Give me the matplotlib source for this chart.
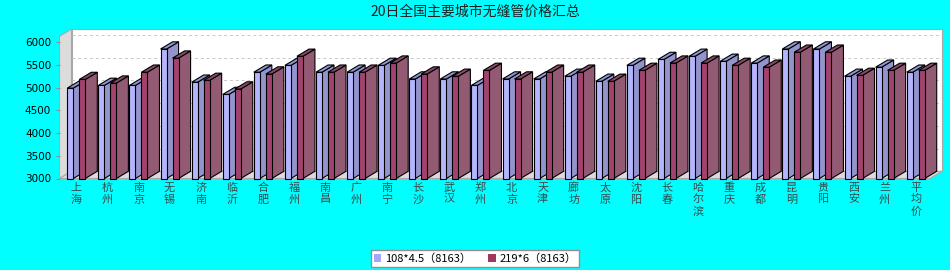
import matplotlib
matplotlib.use("Agg")
import matplotlib.pyplot as plt
from matplotlib.patches import Polygon, Patch
import numpy as np

plt.rcParams['font.family'] = ['Noto Sans CJK SC', 'DejaVu Sans']

title = "20日全国主要城市无缝管价格汇总"
cities = ["上海", "杭州", "南京", "无锡", "济南", "临沂", "合肥", "福州", "南昌", "广州",
          "南宁", "长沙", "武汉", "郑州", "北京", "天津", "廊坊", "太原", "沈阳", "长春",
          "哈尔滨", "重庆", "成都", "昆明", "贵阳", "西安", "兰州", "平均价"]
series_names = ["108*4.5（8163）", "219*6（8163）"]
s1 = [4990, 5050, 5050, 5850, 5120, 4850, 5340, 5490, 5340, 5340,
      5490, 5190, 5190, 5050, 5190, 5190, 5250, 5140, 5490, 5620,
      5690, 5580, 5540, 5850, 5850, 5250, 5450, 5340]
s2 = [5180, 5100, 5340, 5650, 5160, 4970, 5300, 5690, 5340, 5340,
      5540, 5300, 5250, 5380, 5190, 5340, 5340, 5140, 5380, 5540,
      5540, 5490, 5450, 5780, 5780, 5270, 5380, 5380]
yticks = [3000, 3500, 4000, 4500, 5000, 5500, 6000]

W, H = 950, 270
fig = plt.figure(figsize=(W / 100, H / 100), dpi=100)
fig.patch.set_facecolor('#00ffff')

x_left, x_right, y_bot, y_top = 59.5, 930.0, 178.5, 36.3
ax = fig.add_axes([x_left / W, 1 - y_bot / H, (x_right - x_left) / W, (y_bot - y_top) / H])
ax.set_facecolor('none')
n = len(cities)
ymin, ymax = 3000, 6130
ax.set_xlim(0, n)
ax.set_ylim(ymin, ymax)

px_x = (x_right - x_left) / n          # pixels per category unit
px_y = (y_bot - y_top) / (ymax - ymin)  # pixels per value unit
dx = 12 / px_x
dy = 7.2 / px_y

wall_gray = '#dcdcdc'
edge_gray = '#a8a8a8'
# back wall
ax.add_patch(Polygon([(dx, ymin + dy), (n + dx, ymin + dy), (n + dx, ymax + dy), (dx, ymax + dy)],
                     closed=True, facecolor='white', edgecolor=edge_gray, lw=0.8, clip_on=False, zorder=0))
# left wall
ax.add_patch(Polygon([(0, ymin), (dx, ymin + dy), (dx, ymax + dy), (0, ymax)],
                     closed=True, facecolor=wall_gray, edgecolor=edge_gray, lw=0.8, clip_on=False, zorder=0.5))
# floor
ax.add_patch(Polygon([(0, ymin), (n, ymin), (n + dx, ymin + dy), (dx, ymin + dy)],
                     closed=True, facecolor=wall_gray, edgecolor=edge_gray, lw=0.8, clip_on=False, zorder=0.5))
# gridlines on back wall
for v in yticks[1:]:
    ax.plot([dx, n + dx], [v + dy, v + dy], color='#c8c8c8', lw=0.7, ls=(0, (3, 3)),
            clip_on=False, zorder=0.6)

bw = 6 / px_x
off1 = 7.8 / px_x
off2 = 19.8 / px_x
styles = [
    dict(front='#b4b4ff', side='#9494cc', top='#8f98d4'),
    dict(front='#a3426f', side='#935a74', top='#8a4a68'),
]
z = 2
for i in range(n):
    for vals, off, st in ((s1, off1, styles[0]), (s2, off2, styles[1])):
        v = vals[i]
        x0 = i + off
        x1 = x0 + bw
        ax.bar([x0], [v - ymin], width=bw, bottom=ymin, align='edge', color=st['front'],
               edgecolor='black', lw=0.8, zorder=z + 0.2, clip_on=False)
        ax.add_patch(Polygon([(x1, ymin), (x1 + dx, ymin + dy), (x1 + dx, v + dy), (x1, v)],
                             closed=True, facecolor=st['side'], edgecolor='black', lw=0.8,
                             clip_on=False, zorder=z))
        ax.add_patch(Polygon([(x0, v), (x1, v), (x1 + dx, v + dy), (x0 + dx, v + dy)],
                             closed=True, facecolor=st['top'], edgecolor='black', lw=0.8,
                             clip_on=False, zorder=z + 0.1))
        z += 1

for s in ['top', 'right', 'bottom', 'left']:
    ax.spines[s].set_visible(False)
ax.set_yticks(yticks)
ax.set_yticklabels([str(t) for t in yticks], fontsize=7.5, family=['DejaVu Sans'])
ax.tick_params(axis='y', length=3, width=0.8, color='#909090', pad=3)

centers = np.arange(n) + (off1 + off2 + bw) / 2
ax.set_xticks(centers)
ax.set_xticklabels(["\n".join(c) for c in cities], fontsize=8, color='#3a4a4a', linespacing=1.2)
ax.tick_params(axis='x', length=0, pad=3)

fig.text(0.5, 1 - 12 / H, title, ha='center', va='center', fontsize=10, color='#202020')

handles = [Patch(facecolor='#a5a5ff', edgecolor='none'), Patch(facecolor='#a0375f', edgecolor='none')]
leg = fig.legend(handles, series_names, loc='center', bbox_to_anchor=(0.5, 1 - 258.5 / H), ncol=2,
                 fontsize=8, frameon=True, fancybox=False, handlelength=0.7, handleheight=0.7,
                 handletextpad=0.3, columnspacing=1.6, borderpad=0.25, borderaxespad=0,
                 edgecolor='#909090', framealpha=1.0)
leg.get_frame().set_linewidth(1.0)
leg.get_frame().set_facecolor('white')

fig.savefig('out.png', dpi=100, facecolor=fig.get_facecolor())
